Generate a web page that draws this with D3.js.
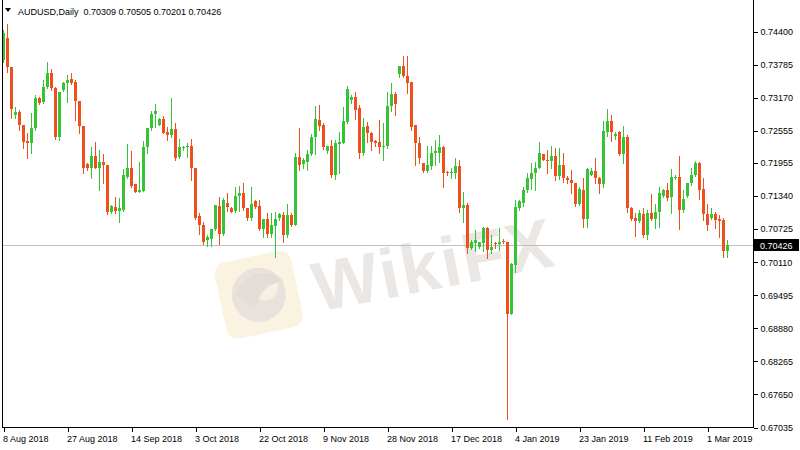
<!DOCTYPE html>
<html>
<head>
<meta charset="utf-8">
<script src="https://cdn.jsdelivr.net/npm/d3@7/dist/d3.min.js"></script>
<style>
  html, body { margin: 0; padding: 0; background: #fff; }
  svg { display: block; }
  text { font-family: "Liberation Sans", Arial, sans-serif; }
</style>
</head>
<body>
<svg id="chart" width="800" height="450"></svg>
<script>
const symbol = "AUDUSD,Daily";
const xTickLabels = ["8 Aug 2018","27 Aug 2018","14 Sep 2018","3 Oct 2018","22 Oct 2018","9 Nov 2018","28 Nov 2018","17 Dec 2018","4 Jan 2019","23 Jan 2019","11 Feb 2019","1 Mar 2019"];
const yTickLabels = ["0.74400","0.73785","0.73170","0.72555","0.71955","0.71340","0.70725","0.70110","0.69495","0.68880","0.68265","0.67650","0.67035"];

const opens = [.7386,.7427,.7373,.7283,.7289,.7265,.7235,.7231,.7259,.7315,.7308,.7336,.7362,.7334,.7242,.7330,.7343,.7350,.7345,.7310,
.7263,.7192,.7186,.7207,.7185,.7196,.7190,.7103,.7112,.7106,.7108,.7168,.7186,.7155,.7140,.7142,.7224,.7259,.7285,.7265,
.7276,.7252,.7246,.7257,.7205,.7222,.7224,.7227,.7186,.7095,.7080,.7052,.7054,.7071,.7114,.7063,.7121,.7110,.7106,.7134,
.7138,.7110,.7093,.7123,.7114,.7071,.7091,.7062,.7078,.7093,.7097,.7060,.7097,.7080,.7205,.7192,.7196,.7211,.7242,.7274,
.7265,.7216,.7226,.7172,.7229,.7231,.7270,.7311,.7317,.7296,.7214,.7263,.7250,.7235,.7233,.7224,.7226,.7300,.7323,.7360,
.7375,.7356,.7345,.7265,.7231,.7194,.7179,.7188,.7213,.7214,.7224,.7177,.7175,.7175,.7188,.7110,.7116,.7037,.7045,.7039,
.7045,.7073,.7032,.7045,.7043,.7050,.7047,.6914,.7004,.7110,.7121,.7144,.7164,.7175,.7186,.7211,.7201,.7198,.7207,.7170,
.7190,.7166,.7162,.7158,.7119,.7145,.7091,.7173,.7179,.7166,.7155,.7252,.7272,.7244,.7252,.7211,.7242,.7110,.7093,.7086,
.7099,.7060,.7101,.7091,.7103,.7134,.7145,.7131,.7166,.7168,.7108,.7134,.7157,.7172,.7194,.7147,.7099,.7093,.7099,.7091,
.7089,.70309];
const highs = [.7442,.7453,.7373,.7298,.7293,.7265,.7250,.7287,.7321,.7317,.7349,.7382,.7369,.7336,.7326,.7345,.7358,.7362,.7349,.7310,
.7263,.7194,.7224,.7233,.7218,.7211,.7190,.7116,.7131,.7129,.7183,.7229,.7216,.7155,.7196,.7235,.7259,.7291,.7304,.7278,
.7282,.7261,.7315,.7268,.7240,.7227,.7231,.7239,.7186,.7101,.7084,.7060,.7071,.7117,.7131,.7129,.7138,.7112,.7149,.7151,
.7158,.7110,.7149,.7125,.7125,.7091,.7101,.7101,.7103,.7101,.7103,.7119,.7101,.7213,.7259,.7203,.7218,.7248,.7300,.7302,
.7268,.7227,.7237,.7237,.7252,.7298,.7337,.7321,.7326,.7302,.7278,.7270,.7252,.7237,.7274,.7268,.7326,.7343,.7326,.7375,
.7393,.7393,.7345,.7265,.7242,.7194,.7226,.7227,.7237,.7246,.7226,.7179,.7186,.7203,.7200,.7140,.7121,.7052,.7069,.7048,
.7075,.7075,.7060,.7048,.7073,.7054,.7048,.7009,.7125,.7125,.7149,.7175,.7194,.7196,.7233,.7211,.7218,.7226,.7222,.7222,
.7213,.7170,.7181,.7158,.7149,.7166,.7185,.7185,.7203,.7168,.7272,.7295,.7283,.7252,.7254,.7263,.7246,.7112,.7101,.7108,
.7110,.7108,.7136,.7119,.7149,.7147,.7158,.7183,.7173,.7207,.7144,.7158,.7185,.7198,.7196,.7166,.7119,.7110,.7103,.7097,
.7093,.70505];
const lows = [.7382,.7364,.7278,.7278,.7255,.7222,.7203,.7213,.7255,.7304,.7306,.7334,.7330,.7240,.7237,.7328,.7308,.7341,.7274,.7250,
.7175,.7181,.7166,.7185,.7144,.7157,.7099,.7101,.7101,.7084,.7106,.7166,.7149,.7140,.7140,.7142,.7213,.7255,.7261,.7265,
.7250,.7237,.7242,.7200,.7203,.7218,.7205,.7162,.7091,.7063,.7043,.7041,.7041,.7069,.7043,.7060,.7106,.7103,.7104,.7106,
.7108,.7089,.7088,.7110,.7069,.7056,.7056,.7056,.7019,.7088,.7048,.7056,.7078,.7080,.7181,.7185,.7181,.7209,.7211,.7255,
.7220,.7214,.7168,.7164,.7175,.7231,.7268,.7306,.7276,.7203,.7209,.7233,.7218,.7227,.7213,.7200,.7222,.7291,.7283,.7354,
.7354,.7324,.7255,.7190,.7194,.7177,.7177,.7183,.7190,.7196,.7149,.7172,.7166,.7166,.7103,.7084,.7028,.7035,.7030,.7037,
.7030,.7017,.7028,.7037,.7032,.7045,.6718,.6914,.6991,.7108,.7114,.7140,.7147,.7144,.7185,.7200,.7175,.7186,.7162,.7164,
.7160,.7158,.7138,.7114,.7117,.7076,.7076,.7172,.7157,.7138,.7149,.7244,.7235,.7240,.7209,.7194,.7103,.7089,.7058,.7084,
.7056,.7054,.7088,.7073,.7076,.7132,.7125,.7101,.7164,.7071,.7103,.7131,.7153,.7170,.7127,.7089,.7069,.7091,.7073,.7056,
.7020,.70201];
const closes = [.7436,.7373,.7295,.7289,.7265,.7233,.7231,.7259,.7315,.7306,.7336,.7362,.7334,.7242,.7326,.7343,.7349,.7343,.7310,.7263,
.7186,.7186,.7207,.7185,.7196,.7190,.7103,.7114,.7106,.7110,.7172,.7186,.7151,.7140,.7144,.7224,.7259,.7285,.7291,.7276,
.7250,.7246,.7257,.7203,.7224,.7224,.7227,.7186,.7093,.7080,.7048,.7056,.7071,.7116,.7063,.7125,.7112,.7104,.7134,.7138,
.7110,.7093,.7119,.7112,.7071,.7091,.7062,.7080,.7091,.7099,.7060,.7097,.7080,.7205,.7190,.7200,.7211,.7242,.7276,.7263,
.7224,.7226,.7173,.7231,.7233,.7272,.7332,.7317,.7293,.7214,.7261,.7250,.7233,.7231,.7224,.7227,.7300,.7323,.7304,.7375,
.7356,.7343,.7261,.7231,.7203,.7179,.7190,.7213,.7216,.7224,.7175,.7175,.7177,.7188,.7110,.7116,.7037,.7048,.7052,.7047,
.7073,.7032,.7039,.7043,.7047,.7047,.6914,.7007,.7112,.7123,.7144,.7166,.7175,.7186,.7213,.7201,.7198,.7207,.7170,.7190,
.7166,.7162,.7157,.7119,.7147,.7091,.7183,.7179,.7166,.7155,.7254,.7272,.7252,.7248,.7211,.7242,.7110,.7091,.7086,.7101,
.7060,.7101,.7091,.7103,.7138,.7145,.7129,.7168,.7168,.7108,.7127,.7157,.7172,.7194,.7145,.7099,.7080,.7099,.7089,.7086,
.7030,.70426];

const BULL = "#36c336", BEAR = "#ee4f1d";
const svg = d3.select("#chart");
svg.append("rect").attr("width", 800).attr("height", 450).attr("fill", "#fff");

const n = closes.length;
const bars = d3.range(n).map(i => ({i, o: opens[i], h: highs[i], l: lows[i], c: closes[i]}));

const xScale = d3.scaleLinear().domain([0, n - 1]).range([3, 3 + 4 * (n - 1)]);
const yScale = d3.scaleLinear().domain([0.67035, 0.744]).range([427, 31]);

const plotLeft = 2, plotRight = 753, plotBottom = 427;

// watermark
const wm = svg.append("g").attr("transform", "translate(258,296) rotate(-12)");
wm.append("rect").attr("x", -38).attr("y", -40).attr("width", 78).attr("height", 78).attr("rx", 12)
  .attr("fill", "#fbf3e1");
wm.append("circle").attr("cx", 1).attr("cy", -1).attr("r", 27).attr("fill", "#e8e1dc");
wm.append("circle").attr("cx", 8).attr("cy", -8).attr("r", 14).attr("fill", "#f6efe3");
wm.append("path").attr("d", "M-22,-6 Q-4,-30 20,-18 L28,-10 L14,-8 Q2,-4 -4,10 Q-14,4 -22,-6 Z").attr("fill", "#e3dcd7");
svg.append("text").attr("transform", "translate(318,312) rotate(-11)")
  .attr("font-family", "'DejaVu Sans', sans-serif").attr("font-weight", "bold").attr("font-size", 70)
  .attr("letter-spacing", 2).attr("fill", "#ebe7e5").text("WikiFX");

// current price line
const lastClose = closes[n - 1];
const yLast = Math.round(yScale(lastClose)) + 0.5;
svg.append("line").attr("x1", plotLeft).attr("x2", plotRight).attr("y1", yLast).attr("y2", yLast)
  .attr("stroke", "#c0c0c0").attr("stroke-width", 1);

// candles
const cg = svg.append("g").attr("shape-rendering", "crispEdges");
bars.forEach(b => {
  const xc = Math.round(xScale(b.i));
  const col = b.c >= b.o ? BULL : BEAR;
  cg.append("line").attr("x1", xc + 0.5).attr("x2", xc + 0.5)
    .attr("y1", Math.round(yScale(b.h))).attr("y2", Math.round(yScale(b.l)) + 1)
    .attr("stroke", col).attr("stroke-width", 1);
  const yTop = Math.round(yScale(Math.max(b.o, b.c)));
  const yBot = Math.round(yScale(Math.min(b.o, b.c)));
  cg.append("rect").attr("x", xc - 1).attr("y", yTop).attr("width", 3)
    .attr("height", Math.max(1, yBot - yTop)).attr("fill", col);
});

// frame
const fg = svg.append("g").attr("shape-rendering", "crispEdges").attr("stroke", "#000");
fg.append("line").attr("x1", plotLeft + 0.5).attr("x2", plotLeft + 0.5).attr("y1", 0).attr("y2", plotBottom + 1);
fg.append("line").attr("x1", plotLeft).attr("x2", plotRight + 1).attr("y1", plotBottom + 0.5).attr("y2", plotBottom + 0.5);
fg.append("line").attr("x1", plotRight + 0.5).attr("x2", plotRight + 0.5).attr("y1", 0).attr("y2", plotBottom + 1);

// y axis
const yAxis = d3.axisRight(yScale).tickValues(yTickLabels.map(Number))
  .tickFormat((d, i) => yTickLabels[i]).tickSize(4).tickPadding(3);
const ya = svg.append("g").attr("transform", `translate(${plotRight + 0.5},0.5)`).call(yAxis);
ya.select(".domain").remove();
ya.selectAll("line").attr("stroke", "#000").attr("shape-rendering", "crispEdges");
ya.selectAll("text").attr("font-family", "'Liberation Sans', Arial, sans-serif").attr("font-size", 9).attr("fill", "#000");

// x axis
const xTickIdx = xTickLabels.map((_, k) => k * 16);
const xAxis = d3.axisBottom(xScale).tickValues(xTickIdx)
  .tickFormat((d, i) => xTickLabels[i]).tickSize(4).tickPadding(4);
const xa = svg.append("g").attr("transform", `translate(0.5,${plotBottom + 0.5})`).call(xAxis);
xa.select(".domain").remove();
xa.selectAll("line").attr("stroke", "#000").attr("shape-rendering", "crispEdges");
xa.selectAll("text").attr("text-anchor", "start").attr("dx", -1)
  .attr("font-family", "'Liberation Sans', Arial, sans-serif").attr("font-size", 9).attr("fill", "#000");

// current price label
svg.append("rect").attr("x", plotRight + 1).attr("y", yLast - 6.5).attr("width", 45).attr("height", 12).attr("fill", "#000");
svg.append("text").attr("x", plotRight + 7).attr("y", yLast + 3.5)
  .attr("font-size", 9).attr("fill", "#fff").text(d3.format(".5f")(lastClose));

// header
svg.append("path").attr("d", "M5,8 L11,8 L8,12 Z").attr("fill", "#000");
const fmt = d3.format(".5f");
svg.append("text").attr("x", 18).attr("y", 15).attr("font-size", 9).attr("fill", "#000")
  .attr("xml:space", "preserve")
  .text(`${symbol}  ${fmt(opens[n-1])} ${fmt(highs[n-1])} ${fmt(lows[n-1])} ${fmt(lastClose)}`);
</script>
</body>
</html>
